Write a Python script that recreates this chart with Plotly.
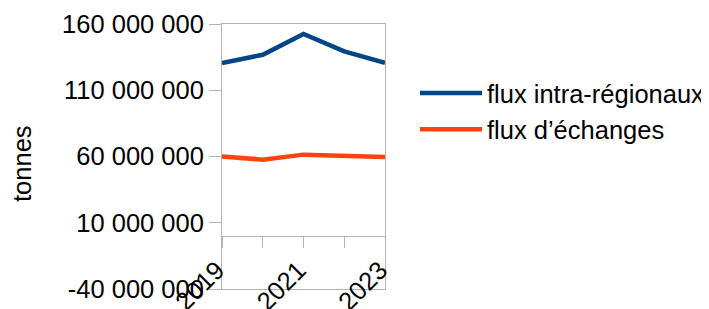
import plotly.graph_objects as go

years = [2019, 2020, 2021, 2022, 2023]
intra = [130.6e6, 136.8e6, 152.5e6, 139.3e6, 130.6e6]
echanges = [60.1e6, 57.6e6, 61.4e6, 60.4e6, 59.6e6]
tick_years = [2019, 2020, 2021, 2022, 2023]
tick_year_text = ["2019", "", "2021", "", "2023"]
y_ticks = [-40e6, 10e6, 60e6, 110e6, 160e6]
y_tick_text = ["-40 000 000", "10 000 000", "60 000 000", "110 000 000", "160 000 000"]

FONT = "Liberation Sans, Arial, sans-serif"
GRAY = "#b3b3b3"
FS = 25.5

# page has an 8px body margin; figure extends slightly past the window on the right
OFF = 8
W, H = 740, 309 - OFF
PL, PR, PT, PB = 222, 385, 24, 289  # plot area in window pixels
PW, PH = PR - PL, PB - PT

fig = go.Figure()
fig.add_trace(go.Scatter(x=years, y=intra, mode="lines", name="flux intra-régionaux",
                         line=dict(color="#004586", width=4.5)))
fig.add_trace(go.Scatter(x=years, y=echanges, mode="lines", name="flux d\u2019échanges",
                         line=dict(color="#ff420e", width=4.5)))
fig.add_trace(go.Scatter(x=[2019, 2023], y=[None, None], xaxis="x2", showlegend=False,
                         hoverinfo="skip"))

ymin, ymax = -40e6, 160e6
zero_pos = (0 - ymin) / (ymax - ymin)

fig.update_layout(
    width=W, height=H,
    margin=dict(l=PL - OFF, r=W - (PR - OFF), t=PT - OFF, b=H - (PB - OFF), autoexpand=False),
    paper_bgcolor="white", plot_bgcolor="white",
    font=dict(family=FONT, size=FS, color="black"),
    xaxis=dict(range=[2019, 2023], tickvals=tick_years, ticktext=tick_year_text,
               tickangle=-45, anchor="free", position=zero_pos,
               showline=True, linecolor=GRAY, linewidth=1,
               ticks="outside", ticklen=11, tickcolor=GRAY, tickwidth=1,
               ticklabelstandoff=-3, ticklabelshift=-5,
               showgrid=False, zeroline=False, automargin=False,
               tickfont=dict(family=FONT, size=FS, color="black")),
    xaxis2=dict(range=[2019, 2023], overlaying="x", anchor="y", showline=True,
                mirror=True, linecolor=GRAY, linewidth=1, showticklabels=False,
                ticks="", showgrid=False, zeroline=False, automargin=False),
    yaxis=dict(range=[ymin, ymax], tickvals=y_ticks, ticktext=y_tick_text,
               showline=True, mirror=True, linecolor=GRAY, linewidth=1,
               ticks="outside", ticklen=12, tickcolor=GRAY, tickwidth=1,
               showgrid=False, zeroline=False, automargin=False,
               tickfont=dict(family=FONT, size=FS, color="black")),
    legend=dict(x=(415 - PL) / PW, xanchor="left", y=(PB - 70) / PH, yanchor="top",
                font=dict(family=FONT, size=FS, color="black"), itemwidth=62,
                bgcolor="rgba(0,0,0,0)"),
    annotations=[dict(text="tonnes", xref="paper", yref="paper",
                      x=(22 - PL) / PW, y=(PB - 164) / PH,
                      xanchor="center", yanchor="middle", textangle=-90,
                      showarrow=False, font=dict(family=FONT, size=FS, color="black"))],
)

fig.write_html("out.html")
